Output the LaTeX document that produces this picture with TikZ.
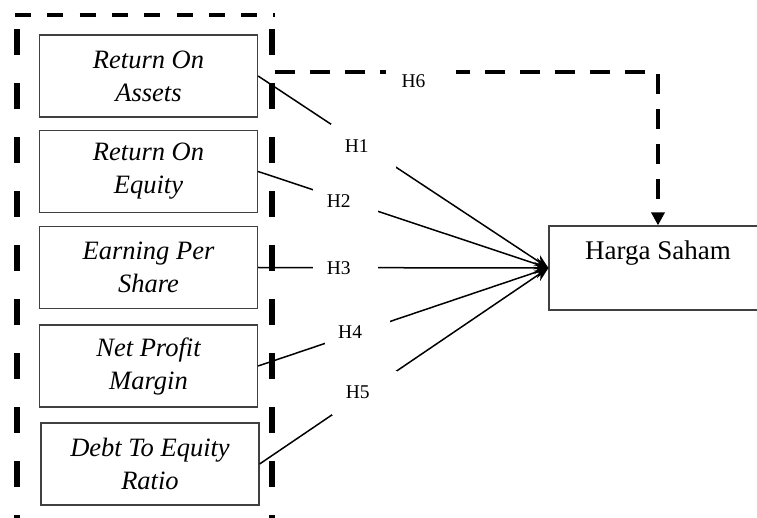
\documentclass[tikz,border=0pt]{standalone}
\usepackage{fontspec}
\setmainfont{Liberation Serif}
\usetikzlibrary{arrows.meta}

\begin{document}
\begin{tikzpicture}[x=1pt, y=-1pt,
  varbox/.style={draw=black!75, line width=1.2pt, minimum width=218pt, minimum height=82pt, inner sep=0pt, align=center, font=\fontsize{26.5}{33}\selectfont\itshape},
  hlabel/.style={fill=white, minimum width=65pt, minimum height=44pt, inner sep=0pt, font=\fontsize{19.5}{19.5}\selectfont, execute at end node={\hspace*{14pt}}},
  hyp/.style={line width=1.5pt, -{Stealth[length=14pt, width=12pt]}},
  grp/.style={line width=#1, line cap=butt}]
\useasboundingbox (0,0) rectangle (757,518);

% kelompok variabel X
\draw[grp=4.5pt, dash pattern=on 16pt off 16.3pt] (15,15) -- (275,15);
\draw[grp=6pt, dash pattern=on 26pt off 28pt] (17,29) -- (17,560);
\draw[grp=6pt, dash pattern=on 26pt off 28pt] (272,29) -- (272,560);

\node[varbox] (roa) at (148.5,76) {Return On\\Assets};
\node[varbox] (roe) at (148.5,171.5) {Return On\\Equity};
\node[varbox] (eps) at (148.5,267.5) {Earning Per\\Share};
\node[varbox] (npm) at (148.5,366) {Net Profit\\Margin};
\node[varbox] (der) at (150,464) {Debt To Equity\\Ratio};

% variabel Y
\node[draw=black!75, line width=1.2pt, minimum width=218pt, inner sep=0pt, text height=34pt, text depth=50pt, font=\fontsize{27}{33}\selectfont] (harga) at (658,268) {Harga Saham};

\draw[hyp] (roa.east) -- node[hlabel, pos=0.364] {H1} (harga.west);
\draw[hyp] (roe.east) -- node[hlabel, pos=0.302] {H2} (harga.west);
\draw[hyp] (eps.east) -- node[hlabel, pos=0.302] {H3} (harga.west);
\draw[hyp] (npm.east) -- node[hlabel, pos=0.341] {H4} (harga.west);
\draw[hyp] (der.east) -- node[hlabel, pos=0.364] {H5} (harga.west);

% simultan
\coordinate (h6start) at (275,72);
\draw[line width=4.5pt, dash pattern=on 20pt off 15pt, -{Triangle[length=13pt, width=13pt]}] (h6start) -| node[hlabel, pos=0.19, minimum width=70pt, minimum height=30pt, yshift=-9pt] {H6} (harga.north);
\end{tikzpicture}
\end{document}
